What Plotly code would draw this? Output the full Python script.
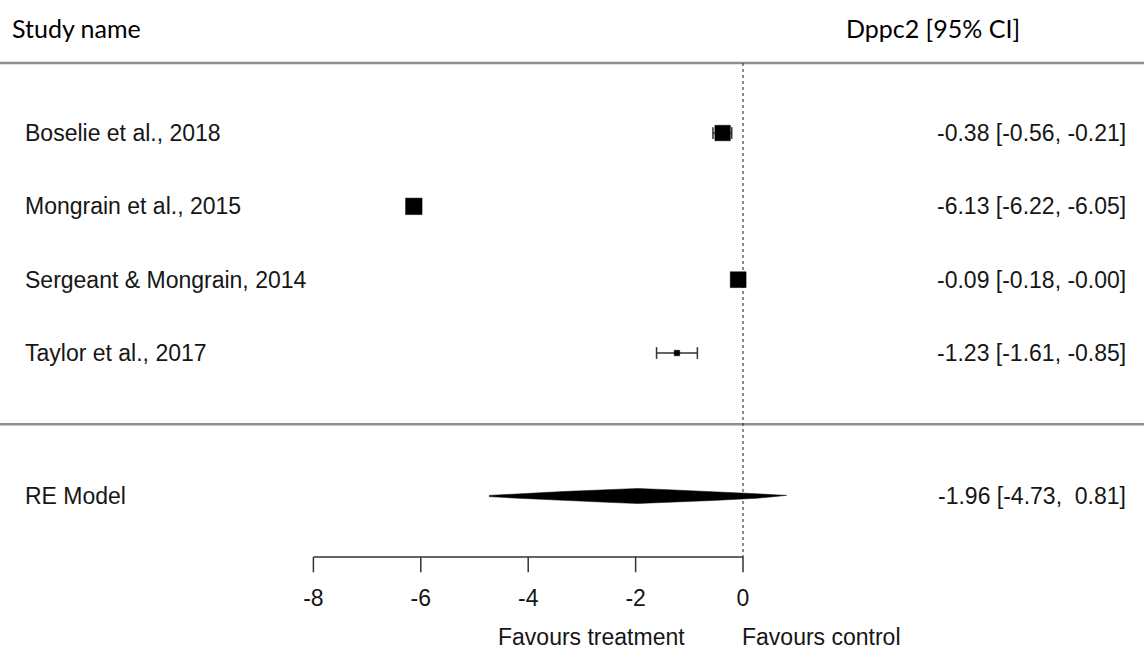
import plotly.graph_objects as go

# ---------------- data ----------------
studies = ["Boselie et al., 2018", "Mongrain et al., 2015",
           "Sergeant & Mongrain, 2014", "Taylor et al., 2017"]
est = [-0.38, -6.13, -0.09, -1.23]
ci_lo = [-0.56, -6.22, -0.18, -1.61]
ci_hi = [-0.21, -6.05, -0.00, -0.85]
rel_weight = [0.94, 1.00, 0.96, 0.34]   # relative marker weights

re_label = "RE Model"
re_est = -1.96
re_lo = -4.73
re_hi = 0.81

tick_vals = [-8, -6, -4, -2, 0]
tick_text = ["-8", "-6", "-4", "-2", "0"]

header_left = "Study name"
header_right = "Dppc2 [95% CI]"
lab_treat = "Favours treatment"
lab_ctrl = "Favours control"

# ---------------- layout constants ----------------
W, H = 1144, 658
study_rows = [8, 7, 6, 5]
re_row = 3.05
top_line_row = 8.955
sep_row = 4.03
header_row = 9.43
axis_row = 2.218
tick_bot_row = 2.01
ticklab_row = 1.63
favours_row = 1.127
XR = [-13.836, 7.467]
YR = [0.841, 9.814]

LBL_FONT = dict(family="Liberation Sans, Arial", size=23, color="#161616")
HDR_FONT = dict(family="Lato, Open Sans", size=25, color="#000")

fig = go.Figure()

# horizontal rules
for r in (top_line_row, sep_row):
    fig.add_trace(go.Scatter(x=XR, y=[r, r], mode="lines",
                             line=dict(color="#8f8f8f", width=2.5),
                             hoverinfo="skip", showlegend=False))

# reference line at 0
fig.add_trace(go.Scatter(x=[0, 0], y=[top_line_row, axis_row], mode="lines",
                         line=dict(color="#444", width=1.2, dash="dot"),
                         hoverinfo="skip", showlegend=False))

# CI whiskers with end caps (drawn below the squares)
cap = 0.08
cx, cy = [], []
for r, l, h in zip(study_rows, ci_lo, ci_hi):
    cx += [l, h, None, l, l, None, h, h, None]
    cy += [r, r, None, r - cap, r + cap, None, r - cap, r + cap, None]
fig.add_trace(go.Scatter(x=cx, y=cy, mode="lines",
                         line=dict(color="#333", width=1.5),
                         hoverinfo="skip", showlegend=False))

# study estimates
fig.add_trace(go.Scatter(
    x=est, y=study_rows, mode="markers",
    marker=dict(symbol="square", color="black", opacity=1,
                size=[5.5 + 11 * (w - 0.34) / 0.66 for w in rel_weight],
                line=dict(width=0.5, color="black")),
    hoverinfo="skip", showlegend=False))

# summary diamond (slightly rounded flanks as in the reference rendering)
dh = 0.102
prof = [0.08, 0.3, 0.6, 0.85, 1.0]
fr = [0.0, 0.2, 0.5, 0.8, 1.0]
left_x = [re_lo + f * (re_est - re_lo) for f in fr]
right_x = [re_hi - f * (re_hi - re_est) for f in fr]
px = left_x + right_x[::-1] + right_x[1:] + left_x[::-1][1:]
py = ([re_row + dh * p for p in prof] + [re_row + dh * p for p in prof[::-1]]
      + [re_row - dh * p for p in prof[1:]] + [re_row - dh * p for p in prof[::-1][1:]])
fig.add_trace(go.Scatter(
    x=px, y=py, mode="lines", fill="toself", fillcolor="black",
    line=dict(color="black", width=0.5), hoverinfo="skip", showlegend=False))

# x axis (custom, spans only tick range)
fig.add_trace(go.Scatter(x=[tick_vals[0], tick_vals[-1]], y=[axis_row, axis_row],
                         mode="lines", line=dict(color="#333", width=1.5),
                         hoverinfo="skip", showlegend=False))
tx, ty = [], []
for t in tick_vals:
    tx += [t, t, None]
    ty += [axis_row, tick_bot_row, None]
fig.add_trace(go.Scatter(x=tx, y=ty, mode="lines", line=dict(color="#333", width=1.5),
                         hoverinfo="skip", showlegend=False))
fig.add_trace(go.Scatter(x=tick_vals, y=[ticklab_row] * len(tick_vals), mode="text",
                         text=tick_text, textfont=LBL_FONT, textposition="middle center",
                         hoverinfo="skip", showlegend=False))

ann = []
def a(text, x, y, xanchor, font, xref="paper"):
    ann.append(dict(text=text, x=x, y=y, xref=xref, yref="y", xanchor=xanchor,
                    yanchor="middle", showarrow=False, font=font))

a(header_left, 10 / W, header_row, "left", HDR_FONT)
a(header_right, 1022 / W, header_row, "right", HDR_FONT)

for s, r, e, l, h in zip(studies, study_rows, est, ci_lo, ci_hi):
    a(s, 23 / W, r, "left", LBL_FONT)
    a(f"{e:.2f} [{l:.2f}, {h:.2f}]", 1128 / W, r, "right", LBL_FONT)

a(re_label, 23 / W, re_row, "left", LBL_FONT)
a(f"{re_est:.2f} [{re_lo:.2f}, {re_hi:5.2f}]", 1128 / W, re_row, "right", LBL_FONT)

a(lab_treat, -1.04, favours_row, "right", LBL_FONT, xref="x")
a(lab_ctrl, -0.06, favours_row, "left", LBL_FONT, xref="x")

fig.update_layout(
    width=W, height=H, autosize=False,
    margin=dict(l=0, r=0, t=0, b=0),
    paper_bgcolor="white", plot_bgcolor="white",
    xaxis=dict(range=XR, visible=False, fixedrange=True),
    yaxis=dict(range=YR, visible=False, fixedrange=True),
    annotations=ann, showlegend=False,
)

fig.write_html("out.html", config={"displayModeBar": False},
               post_script="document.body.style.margin='0';")
